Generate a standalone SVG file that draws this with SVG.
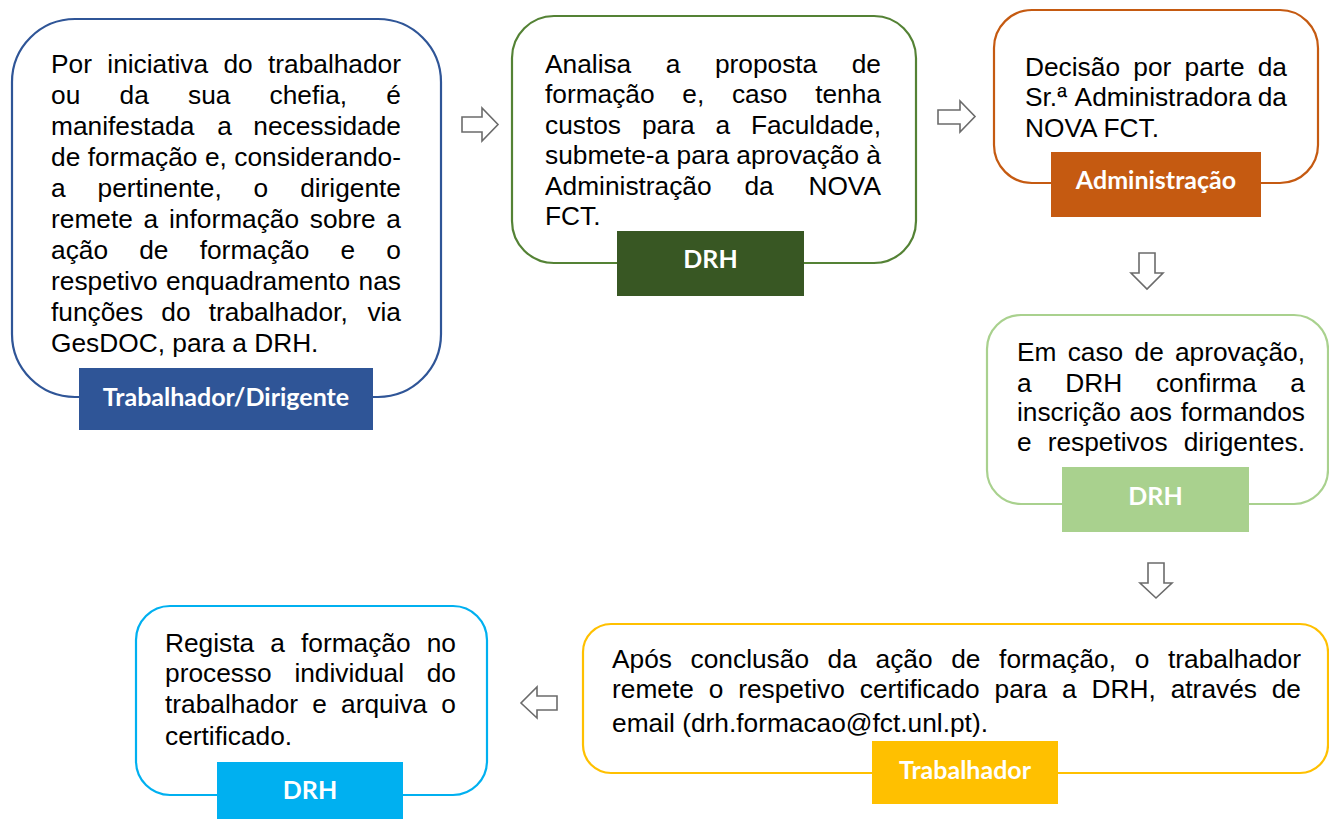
<svg xmlns="http://www.w3.org/2000/svg" width="1329" height="819" viewBox="0 0 1329 819">
<style>
.box{fill:#fff;stroke-width:2.2}
.t{font-family:"Liberation Sans",Arial,sans-serif;font-size:26.3px;fill:#000}
.e{text-anchor:end}
.lbl{font-family:Lato,"Open Sans",sans-serif;font-weight:bold;font-size:25px;fill:#fff;text-anchor:middle}
.arr{fill:#fff;stroke:#6b6b6b;stroke-width:1.6;stroke-linejoin:miter}
</style>
<rect width="1329" height="819" fill="#fff"/>
<g id="connectors">
<path class="arr" d="M462,117 H482 V108 L498,124.5 L482,141 V132 H462 Z"/>
<path class="arr" d="M938,110 H960 V101 L975,116.5 L960,132 V124 H938 Z"/>
<path class="arr" d="M1139,253 H1155 V273 H1163 L1147,289 L1131,273 H1139 Z"/>
<path class="arr" d="M1148,563 H1164 V583 H1172 L1156,598 L1140,583 H1148 Z"/>
<path class="arr" d="M557,696 H537 V687 L521,703 L537,718 V710 H557 Z"/>
</g>
<g id="node1">
<rect class="box" x="12" y="19" width="429" height="378" rx="63" stroke="#2F5597"/>
<text class="t"><tspan x="51" y="73">Por</tspan><tspan x="107.3" y="73">iniciativa</tspan><tspan x="223.4" y="73">do</tspan><tspan class="e" x="401" y="73">trabalhador</tspan></text>
<text class="t"><tspan x="51" y="104">ou</tspan><tspan x="119.5" y="104">da</tspan><tspan x="188" y="104">sua</tspan><tspan x="269.6" y="104">chefia,</tspan><tspan class="e" x="401" y="104">é</tspan></text>
<text class="t"><tspan x="51" y="135">manifestada</tspan><tspan x="217.3" y="135">a</tspan><tspan class="e" x="401" y="135">necessidade</tspan></text>
<text class="t"><tspan x="51" y="166">de</tspan><tspan x="87.8" y="166">formação</tspan><tspan x="204.9" y="166">e,</tspan><tspan class="e" x="401" y="166">considerando-</tspan></text>
<text class="t"><tspan x="51" y="197">a</tspan><tspan x="97.5" y="197">pertinente,</tspan><tspan x="253.6" y="197">o</tspan><tspan class="e" x="401" y="197">dirigente</tspan></text>
<text class="t"><tspan x="51" y="228">remete</tspan><tspan x="143.6" y="228">a</tspan><tspan x="169" y="228">informação</tspan><tspan x="309.8" y="228">sobre</tspan><tspan class="e" x="401" y="228">a</tspan></text>
<text class="t"><tspan x="51" y="259">ação</tspan><tspan x="139.2" y="259">de</tspan><tspan x="199.7" y="259">formação</tspan><tspan x="340.5" y="259">e</tspan><tspan class="e" x="401" y="259">o</tspan></text>
<text class="t"><tspan x="51" y="290">respetivo</tspan><tspan x="166" y="290">enquadramento</tspan><tspan class="e" x="401" y="290">nas</tspan></text>
<text class="t"><tspan x="51" y="321">funções</tspan><tspan x="161.3" y="321">do</tspan><tspan x="208.8" y="321">trabalhador,</tspan><tspan class="e" x="401" y="321">via</tspan></text>
<text class="t" x="51" y="352">GesDOC, para a DRH.</text>
<rect x="79" y="368" width="294" height="62" fill="#2F5597"/>
<text class="lbl" x="226" y="406">Trabalhador/Dirigente</text>
</g>
<g id="node2">
<rect class="box" x="512" y="16" width="404" height="247" rx="42" stroke="#548235"/>
<text class="t"><tspan x="545" y="73">Analisa</tspan><tspan x="665.8" y="73">a</tspan><tspan x="714.9" y="73">proposta</tspan><tspan class="e" x="881" y="73">de</tspan></text>
<text class="t"><tspan x="545" y="103">formação</tspan><tspan x="682.3" y="103">e,</tspan><tspan x="731.9" y="103">caso</tspan><tspan class="e" x="881" y="103">tenha</tspan></text>
<text class="t"><tspan x="545" y="134">custos</tspan><tspan x="641.9" y="134">para</tspan><tspan x="715.4" y="134">a</tspan><tspan class="e" x="881" y="134">Faculdade,</tspan></text>
<text class="t"><tspan x="545" y="164">submete-a</tspan><tspan x="676.5" y="164">para</tspan><tspan x="736.3" y="164">aprovação</tspan><tspan class="e" x="881" y="164">à</tspan></text>
<text class="t"><tspan x="545" y="195">Administração</tspan><tspan x="744.4" y="195">da</tspan><tspan class="e" x="881" y="195">NOVA</tspan></text>
<text class="t" x="545" y="225">FCT.</text>
<rect x="617" y="231" width="187" height="65" fill="#385723"/>
<text class="lbl" x="710.5" y="268">DRH</text>
</g>
<g id="node3">
<rect class="box" x="994" y="10" width="324" height="173" rx="38" stroke="#C55A11"/>
<text class="t"><tspan x="1025" y="76">Decisão</tspan><tspan x="1133.3" y="76">por</tspan><tspan x="1184.6" y="76">parte</tspan><tspan class="e" x="1287" y="76">da</tspan></text>
<text class="t"><tspan x="1025" y="106">Sr.ª</tspan><tspan x="1074.6" y="106">Administradora</tspan><tspan class="e" x="1287" y="106">da</tspan></text>
<text class="t" x="1025" y="137">NOVA FCT.</text>
<rect x="1051" y="152" width="210" height="65" fill="#C55A11"/>
<text class="lbl" x="1156" y="189">Administração</text>
</g>
<g id="node4">
<rect class="box" x="987" y="315" width="341" height="189" rx="34" stroke="#A9D18E"/>
<text class="t"><tspan x="1017" y="361">Em</tspan><tspan x="1067.7" y="361">caso</tspan><tspan x="1134.5" y="361">de</tspan><tspan class="e" x="1305" y="361">aprovação,</tspan></text>
<text class="t"><tspan x="1017" y="392">a</tspan><tspan x="1065.3" y="392">DRH</tspan><tspan x="1155.9" y="392">confirma</tspan><tspan class="e" x="1305" y="392">a</tspan></text>
<text class="t"><tspan x="1017" y="421">inscrição</tspan><tspan x="1129.6" y="421">aos</tspan><tspan class="e" x="1305" y="421">formandos</tspan></text>
<text class="t"><tspan x="1017" y="451">e</tspan><tspan x="1047.7" y="451">respetivos</tspan><tspan class="e" x="1305" y="451">dirigentes.</tspan></text>
<rect x="1062" y="467" width="187" height="65" fill="#A9D18E"/>
<text class="lbl" x="1155.5" y="505">DRH</text>
</g>
<g id="node5">
<rect class="box" x="583" y="624" width="745" height="149" rx="28" stroke="#FFC000"/>
<text class="t"><tspan x="612" y="668">Após</tspan><tspan x="690.6" y="668">conclusão</tspan><tspan x="827.6" y="668">da</tspan><tspan x="875.5" y="668">ação</tspan><tspan x="951.2" y="668">de</tspan><tspan x="999.1" y="668">formação,</tspan><tspan x="1134.7" y="668">o</tspan><tspan class="e" x="1301" y="668">trabalhador</tspan></text>
<text class="t"><tspan x="612" y="698">remete</tspan><tspan x="708.7" y="698">o</tspan><tspan x="738.2" y="698">respetivo</tspan><tspan x="859.8" y="698">certificado</tspan><tspan x="994.5" y="698">para</tspan><tspan x="1062" y="698">a</tspan><tspan x="1091.5" y="698">DRH,</tspan><tspan x="1170.7" y="698">através</tspan><tspan class="e" x="1301" y="698">de</tspan></text>
<text class="t" x="612" y="732">email (drh.formacao@fct.unl.pt).</text>
<rect x="872" y="741" width="186" height="63" fill="#FFC000"/>
<text class="lbl" x="965" y="779">Trabalhador</text>
</g>
<g id="node6">
<rect class="box" x="136" y="606" width="351" height="189" rx="34" stroke="#00B0F0"/>
<text class="t"><tspan x="165" y="652">Regista</tspan><tspan x="270.3" y="652">a</tspan><tspan x="301" y="652">formação</tspan><tspan class="e" x="456" y="652">no</tspan></text>
<text class="t"><tspan x="165" y="682">processo</tspan><tspan x="294.4" y="682">individual</tspan><tspan class="e" x="456" y="682">do</tspan></text>
<text class="t"><tspan x="165" y="713">trabalhador</tspan><tspan x="312.2" y="713">e</tspan><tspan x="341" y="713">arquiva</tspan><tspan class="e" x="456" y="713">o</tspan></text>
<text class="t" x="165" y="745">certificado.</text>
<rect x="217" y="762" width="186" height="57" fill="#00B0F0"/>
<text class="lbl" x="310" y="799">DRH</text>
</g>
</svg>
